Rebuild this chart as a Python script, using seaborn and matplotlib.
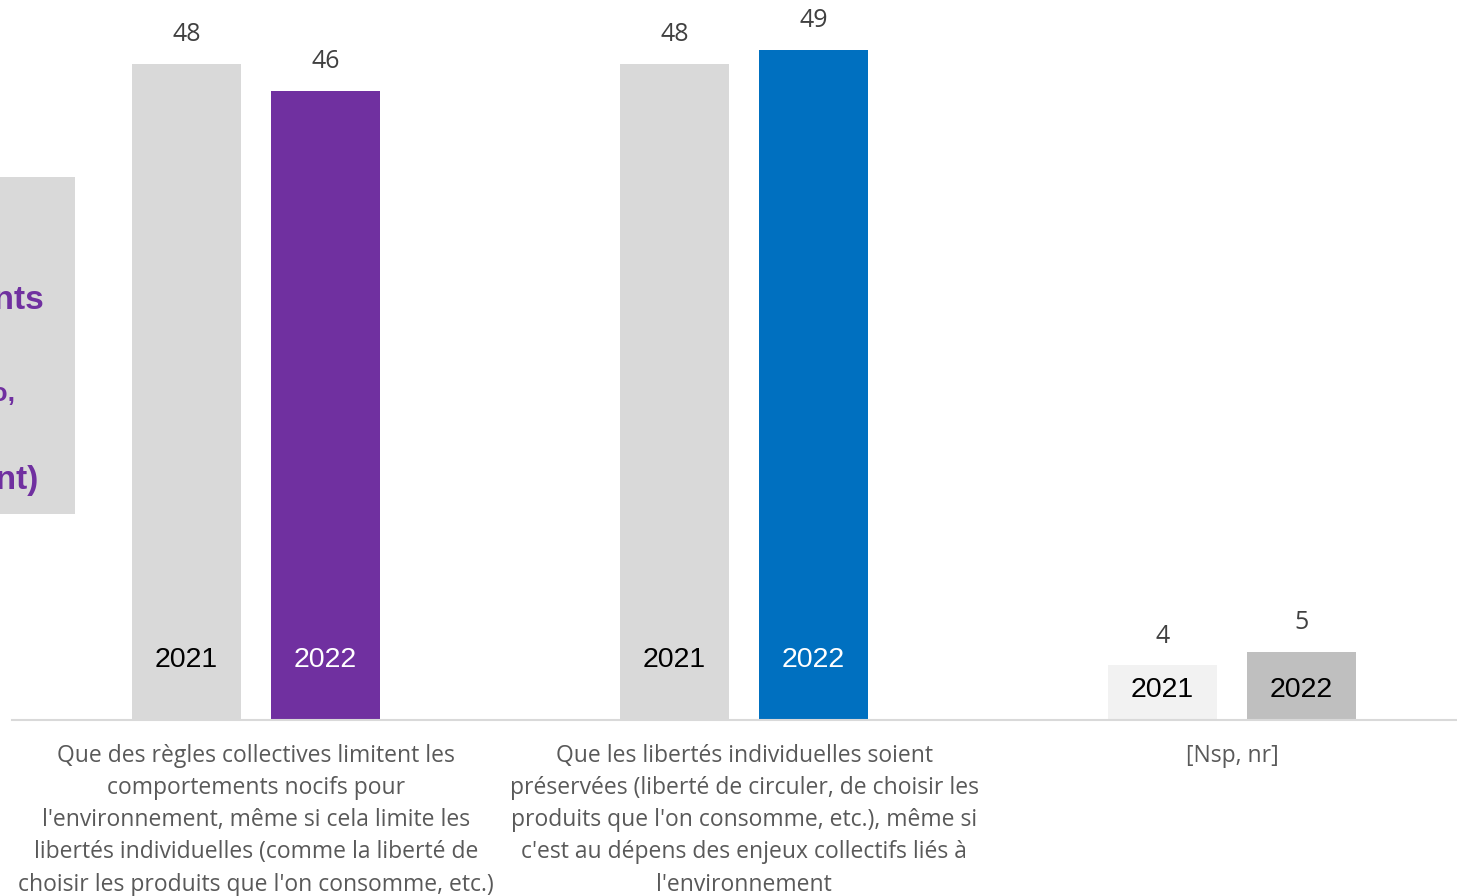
import matplotlib
matplotlib.use("Agg")
import matplotlib.pyplot as plt
import seaborn as sns
import pandas as pd
from matplotlib.patches import Rectangle

# --- data -------------------------------------------------------------
categories = [
    "Que des règles collectives limitent les\ncomportements nocifs pour\n"
    "l'environnement, même si cela limite les\nlibertés individuelles (comme la liberté de\n"
    "choisir les produits que l'on consomme, etc.)",
    "Que les libertés individuelles soient\npréservées (liberté de circuler, de choisir les\n"
    "produits que l'on consomme, etc.), même si\nc'est au dépens des enjeux collectifs liés à\n"
    "l'environnement",
    "[Nsp, nr]",
]
years = ["2021", "2022"]
values_2021 = [48, 48, 4]
values_2022 = [46, 49, 5]

colors_2021 = ["#D9D9D9", "#D9D9D9", "#F2F2F2"]
colors_2022 = ["#7030A0", "#0070C0", "#BFBFBF"]
year_text_2021 = ["black", "black", "black"]
year_text_2022 = ["white", "white", "black"]

df = pd.DataFrame({
    "categorie": categories * 2,
    "annee": [years[0]] * 3 + [years[1]] * 3,
    "valeur": values_2021 + values_2022,
})

# --- figure -----------------------------------------------------------
sns.set_theme(style="white")
plt.rcParams["font.family"] = ["Lato", "DejaVu Sans"]

fig = plt.figure(figsize=(14.57, 8.96), dpi=100)
ax = fig.add_axes([12 / 1457, 176 / 896, 1464 / 1457, 711 / 896])

sns.barplot(data=df, x="categorie", y="valeur", hue="annee", hue_order=years,
            order=categories, width=0.57, gap=0.218, legend=False, ax=ax,
            saturation=1, edgecolor="none", linewidth=0)

ax.set_xlim(-0.5, 2.5)
ax.set_ylim(0, 52)

bar_colors = [colors_2021, colors_2022]
text_colors = [year_text_2021, year_text_2022]
bar_values = [values_2021, values_2022]
for h, container in enumerate(ax.containers):
    for i, patch in enumerate(container.patches):
        patch.set_facecolor(bar_colors[h][i])
        cx = patch.get_x() + patch.get_width() / 2
        val = bar_values[h][i]
        # value above the bar
        ax.annotate(str(val), (cx, val), xytext=(0, 21), textcoords="offset points",
                    ha="center", va="center", fontsize=18, color="#404040",
                    family=["Open Sans", "DejaVu Sans"])
        # year inside the bar, near its base
        ty = 4.4 if val > 10 else 2.2
        ax.text(cx, ty, years[h], ha="center", va="center", fontsize=20.5,
                color=text_colors[h][i], family=["Liberation Sans", "DejaVu Sans"])

# axes styling
for side in ["top", "right", "left"]:
    ax.spines[side].set_visible(False)
ax.spines["bottom"].set_color("#D9D9D9")
ax.spines["bottom"].set_linewidth(1.5)
ax.set_yticks([])
ax.set_xlabel("")
ax.set_ylabel("")
ax.tick_params(axis="x", length=0, pad=17)
for lbl in ax.get_xticklabels():
    lbl.set_fontsize(16.5)
    lbl.set_color("#595959")
    lbl.set_linespacing(1.46)
    lbl.set_va("top")
    lbl.set_family(["Open Sans", "DejaVu Sans"])

# side callout box running off the left edge
fig.patches.append(Rectangle((-0.2, (896 - 514) / 896), 0.2 + 75 / 1457, 337 / 896,
                             transform=fig.transFigure, facecolor="#D9D9D9",
                             edgecolor="none", zorder=0))
box_kw = dict(transform=fig.transFigure, ha="right", va="center", color="#7030A0",
              fontweight="bold", family=["Liberation Sans", "DejaVu Sans"])
fig.text(44 / 1457, 1 - 301 / 896, "Les répondants", fontsize=24, **box_kw)
fig.text(15 / 1457, 1 - 394 / 896, "en pourcentage, en duo,", fontsize=19, **box_kw)
fig.text(38 / 1457, 1 - 481 / 896, "(Total Répondant)", fontsize=24, **box_kw)

fig.savefig("out.png", dpi=100)
